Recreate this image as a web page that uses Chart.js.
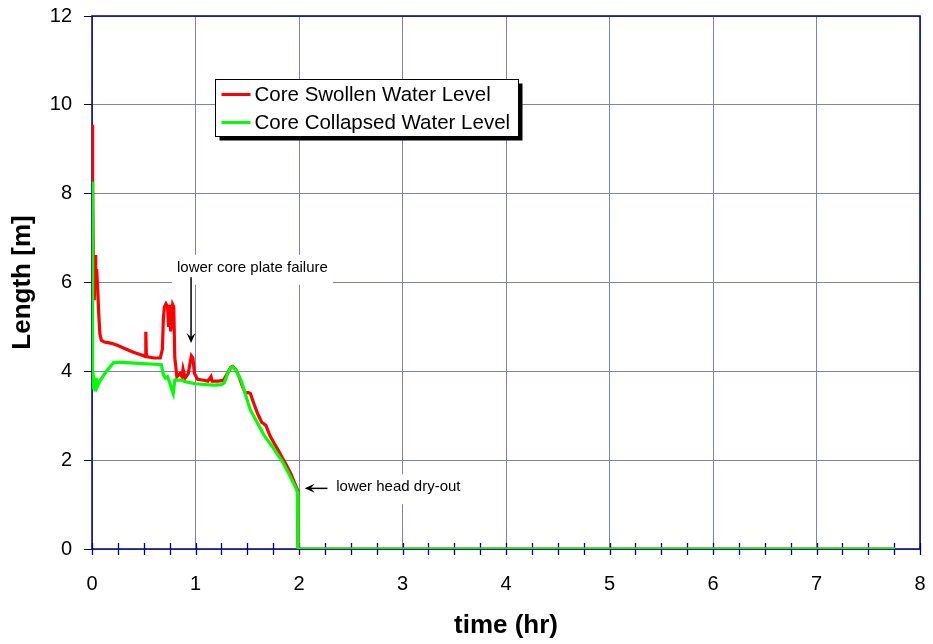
<!DOCTYPE html>
<html>
<head>
<meta charset="utf-8">
<script src="https://cdn.jsdelivr.net/npm/chart.js@4.4.1/dist/chart.umd.min.js"></script>
<style>
  html, body { margin: 0; padding: 0; background: #ffffff; }
  #wrap { width: 933px; height: 644px; }
</style>
</head>
<body>
<div id="wrap"><canvas id="chart" width="933" height="644"></canvas></div>
<script>
// Core water levels [m] against time [hr]
const swollenHours = [0.000, 0.004, 0.008, 0.014, 0.022, 0.030, 0.036, 0.045, 0.055, 0.065, 0.076, 0.090,
  0.12, 0.19, 0.25, 0.31, 0.40, 0.50, 0.515, 0.520, 0.526, 0.60, 0.66, 0.680, 0.690, 0.700, 0.715, 0.730,
  0.740, 0.750, 0.760, 0.770, 0.780, 0.790, 0.800, 0.810, 0.820, 0.850, 0.870, 0.880, 0.900, 0.930,
  0.960, 0.975, 0.990, 1.02, 1.08, 1.12, 1.15, 1.16, 1.22, 1.27, 1.31, 1.34, 1.36, 1.39, 1.42, 1.45,
  1.48, 1.51, 1.53, 1.56, 1.60, 1.64, 1.66, 1.68, 1.72, 1.76, 1.80, 1.84, 1.86, 1.92, 1.985, 1.990, 7.76];
const swollenLevel = [9.55, 9.40, 8.30, 6.00, 5.60, 6.62, 6.00, 6.30, 5.85, 5.30, 4.85, 4.70,
  4.66, 4.63, 4.58, 4.52, 4.43, 4.35, 4.33, 4.89, 4.33, 4.30, 4.30, 4.50, 5.20, 5.45, 5.52, 5.45,
  5.00, 5.50, 4.90, 5.20, 5.50, 5.45, 4.30, 4.10, 3.88, 3.95, 3.88, 4.05, 3.85, 3.95,
  4.35, 4.30, 3.95, 3.82, 3.80, 3.78, 3.88, 3.78, 3.78, 3.80, 3.96, 4.09, 4.11, 4.04, 3.89, 3.68,
  3.52, 3.52, 3.50, 3.30, 3.05, 2.85, 2.82, 2.78, 2.55, 2.38, 2.22, 2.05, 1.97, 1.70, 1.33, 0.00, 0.00];

const collapsedHours = [0.000, 0.004, 0.008, 0.012, 0.020, 0.030, 0.040, 0.050, 0.080, 0.14, 0.21, 0.30,
  0.45, 0.60, 0.67, 0.69, 0.71, 0.73, 0.75, 0.77, 0.785, 0.80, 0.86, 0.93, 1.00, 1.10, 1.18, 1.25,
  1.28, 1.31, 1.34, 1.36, 1.39, 1.42, 1.44, 1.47, 1.50, 1.53, 1.60, 1.66, 1.75, 1.84, 1.90, 1.95,
  1.985, 1.990, 7.76];
const collapsedLevel = [8.27, 6.00, 4.00, 3.60, 3.75, 3.55, 3.85, 3.65, 3.80, 4.00, 4.20, 4.20,
  4.18, 4.16, 4.15, 3.92, 3.85, 3.88, 3.75, 3.60, 3.50, 3.80, 3.80, 3.75, 3.72, 3.70, 3.69, 3.70,
  3.75, 3.95, 4.08, 4.10, 4.03, 3.88, 3.80, 3.58, 3.35, 3.13, 2.83, 2.57, 2.28, 1.97, 1.70, 1.47,
  1.29, 0.00, 0.00];

const seriesNames = ['Core Swollen Water Level', 'Core Collapsed Water Level'];
const seriesColors = ['#ff0000', '#00ff00'];

const FONT = '"Liberation Sans", Arial, sans-serif';
const NAVY = '#000080';
const GRID = '#8080c0';

const toPoints = (xs, ys) => xs.map((x, i) => ({ x: x, y: ys[i] }));

// Text notes with arrows, placed in data units
const notes = [
  { text: 'lower core plate failure', x: 1.55, y: 6.33, align: 'center', from: [0.957, 6.12], to: [0.957, 4.64] },
  { text: 'lower head dry-out', x: 2.36, y: 1.39, align: 'left', from: [2.275, 1.365], to: [2.055, 1.365] }
];

// Plot frame and axis tick marks crossing the time axis
const framePlugin = {
  id: 'frame',
  beforeDatasetsDraw(chart) {
    const { ctx, chartArea: a, scales } = chart;
    ctx.save();
    ctx.strokeStyle = NAVY;
    ctx.lineWidth = 1.5;
    ctx.strokeRect(a.left, a.top, a.right - a.left, a.bottom - a.top);
    ctx.lineWidth = 1.3;
    ctx.beginPath();
    for (let t = 0; t <= 8.0001; t += 0.25) {
      const px = Math.round(scales.x.getPixelForValue(t)) + 0.5;
      ctx.moveTo(px, a.bottom - 6);
      ctx.lineTo(px, a.bottom + 6);
    }
    ctx.stroke();
    ctx.restore();
  }
};

const notesPlugin = {
  id: 'notes',
  afterDatasetsDraw(chart) {
    const { ctx, scales } = chart;
    ctx.save();
    ctx.font = '15px ' + FONT;
    ctx.textBaseline = 'middle';
    notes.forEach(n => {
      const px = scales.x.getPixelForValue(n.x);
      const py = scales.y.getPixelForValue(n.y);
      const w = ctx.measureText(n.text).width;
      const left = n.align === 'center' ? px - w / 2 : px;
      ctx.fillStyle = '#ffffff';
      ctx.fillRect(left - 5, py - 13, w + 10, 30);
      ctx.fillStyle = '#000000';
      ctx.textAlign = 'left';
      ctx.fillText(n.text, left, py);
      // arrow
      const x1 = scales.x.getPixelForValue(n.from[0]), y1 = scales.y.getPixelForValue(n.from[1]);
      const x2 = scales.x.getPixelForValue(n.to[0]), y2 = scales.y.getPixelForValue(n.to[1]);
      const ang = Math.atan2(y2 - y1, x2 - x1);
      const hl = 10, hw = 4.5;
      ctx.strokeStyle = '#000000';
      ctx.lineWidth = 1.5;
      ctx.beginPath();
      ctx.moveTo(x1, y1);
      ctx.lineTo(x2 - Math.cos(ang) * hl * 0.6, y2 - Math.sin(ang) * hl * 0.6);
      ctx.stroke();
      ctx.beginPath();
      ctx.moveTo(x2, y2);
      ctx.lineTo(x2 - Math.cos(ang) * hl - Math.sin(ang) * hw, y2 - Math.sin(ang) * hl + Math.cos(ang) * hw);
      ctx.lineTo(x2 - Math.cos(ang) * hl * 0.6, y2 - Math.sin(ang) * hl * 0.6);
      ctx.lineTo(x2 - Math.cos(ang) * hl + Math.sin(ang) * hw, y2 - Math.sin(ang) * hl - Math.cos(ang) * hw);
      ctx.closePath();
      ctx.fillStyle = '#000000';
      ctx.fill();
    });
    ctx.restore();
  }
};

// Boxed legend with drop shadow inside the plot
const boxLegend = {
  id: 'boxLegend',
  afterDatasetsDraw(chart) {
    const { ctx } = chart;
    const bx = 215.5, by = 79.5, bw = 303, bh = 57;
    ctx.save();
    ctx.fillStyle = '#000000';
    ctx.fillRect(bx + 4, by + 4, bw, bh);
    ctx.fillStyle = '#ffffff';
    ctx.fillRect(bx, by, bw, bh);
    ctx.strokeStyle = '#000000';
    ctx.lineWidth = 1;
    ctx.strokeRect(bx, by, bw, bh);
    ctx.font = '20.5px ' + FONT;
    ctx.textBaseline = 'middle';
    ctx.textAlign = 'left';
    chart.data.datasets.forEach((ds, i) => {
      const y = by + 15 + i * 28;
      ctx.strokeStyle = ds.borderColor;
      ctx.lineWidth = 3;
      ctx.beginPath();
      ctx.moveTo(bx + 6, y);
      ctx.lineTo(bx + 35, y);
      ctx.stroke();
      ctx.fillStyle = '#000000';
      ctx.fillText(ds.label, bx + 39, y + 1);
    });
    ctx.restore();
  }
};

// Keep the plot area edges fixed: drop the label overhang padding
function noOverhang(s) {
  s.paddingTop = 0; s.paddingBottom = 0; s.paddingLeft = 0; s.paddingRight = 0;
}

new Chart(document.getElementById('chart'), {
  type: 'line',
  data: {
    datasets: [
      { label: seriesNames[0], data: toPoints(swollenHours, swollenLevel), borderColor: seriesColors[0],
        borderWidth: 3.2, pointRadius: 0, tension: 0, order: 1 },
      { label: seriesNames[1], data: toPoints(collapsedHours, collapsedLevel), borderColor: seriesColors[1],
        borderWidth: 3.2, pointRadius: 0, tension: 0, order: 0 }
    ]
  },
  options: {
    responsive: false,
    devicePixelRatio: 1,
    animation: false,
    events: [],
    layout: { padding: { top: 16, right: 13, left: 0, bottom: 0 } },
    plugins: { legend: { display: false }, tooltip: { enabled: false } },
    scales: {
      x: {
        type: 'linear', min: 0, max: 8,
        ticks: { stepSize: 1, padding: 23, color: '#000000', font: { family: FONT, size: 20 } },
        grid: { color: GRID, lineWidth: 1, drawTicks: false },
        border: { display: false },
        title: { display: true, text: 'time (hr)', color: '#000000',
          font: { family: FONT, size: 26, weight: 'bold' }, padding: { top: 0, bottom: 3 } },
        afterFit(s) { s.height = 95; noOverhang(s); }
      },
      y: {
        type: 'linear', min: 0, max: 12,
        ticks: { stepSize: 2, padding: 12, color: '#000000', font: { family: FONT, size: 20 } },
        grid: { color: GRID, lineWidth: 1, drawTicks: true, tickLength: 8, tickColor: NAVY },
        border: { display: false },
        title: { display: true, text: 'Length [m]', color: '#000000',
          font: { family: FONT, size: 26, weight: 'bold' }, padding: { top: 7, bottom: 0 } },
        afterFit(s) { s.width = 92; noOverhang(s); }
      }
    }
  },
  plugins: [framePlugin, notesPlugin, boxLegend]
});
</script>
</body>
</html>
